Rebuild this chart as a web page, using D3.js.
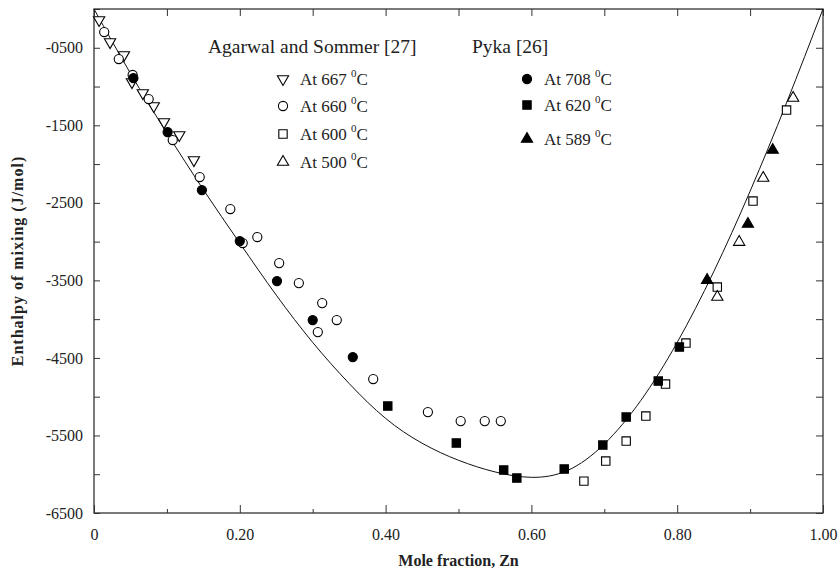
<!DOCTYPE html>
<html>
<head>
<meta charset="utf-8">
<script src="https://cdn.jsdelivr.net/npm/d3@7"></script>
<style>
  body { margin: 0; background: #fff; }
  svg { display: block; font-family: "Liberation Serif", "DejaVu Serif", serif; }
  svg text { font-family: "Liberation Serif", "DejaVu Serif", serif; }
</style>
</head>
<body>
<svg width="838" height="573"></svg>
<script>
// fitted curve
const curveX = [0, 0.05, 0.1, 0.15, 0.2, 0.25, 0.3, 0.35, 0.4, 0.45, 0.5, 0.55, 0.6, 0.65, 0.7, 0.75, 0.8, 0.85, 0.9, 0.95, 1.0];
const curveY = [0, -830, -1600, -2330, -3020, -3690, -4300, -4830, -5280, -5600, -5820, -5970, -6040, -5950, -5610, -5050, -4300, -3390, -2350, -1210, 0];

// Agarwal and Sommer [27]
const a667x = [0.007, 0.022, 0.041, 0.052, 0.067, 0.082, 0.096, 0.117, 0.137];
const a667y = [-142, -426, -594, -942, -1084, -1251, -1458, -1625, -1948];
const a660x = [0.014, 0.034, 0.053, 0.075, 0.108, 0.145, 0.187, 0.204, 0.224, 0.254, 0.281, 0.313, 0.333, 0.307, 0.383, 0.458, 0.503, 0.536, 0.558];
const a660y = [-297, -645, -851, -1161, -1690, -2167, -2580, -3019, -2941, -3277, -3535, -3793, -4012, -4167, -4773, -5199, -5315, -5315, -5315];
const a600x = [0.672, 0.702, 0.730, 0.757, 0.784, 0.812, 0.855, 0.904, 0.950];
const a600y = [-6089, -5830, -5572, -5250, -4837, -4308, -3586, -2477, -1303];
const a500x = [0.855, 0.885, 0.918, 0.959];
const a500y = [-3715, -3006, -2180, -1148];

// Pyka [26]
const p708x = [0.054, 0.101, 0.148, 0.200, 0.251, 0.300, 0.355];
const p708y = [-890, -1587, -2335, -2993, -3509, -4012, -4489];
const p620x = [0.403, 0.497, 0.562, 0.580, 0.645, 0.698, 0.730, 0.774, 0.803];
const p620y = [-5121, -5598, -5946, -6050, -5933, -5624, -5263, -4799, -4360];
const p589x = [0.841, 0.897, 0.931];
const p589y = [-3496, -2773, -1819];

const xLabels = ["0", "0.20", "0.40", "0.60", "0.80", "1.00"];
const yLabelled = [-500, -1500, -2500, -3500, -4500, -5500, -6500];

const svg = d3.select("svg");
const mLeft = 94, mRight = 823, mTop = 9, mBottom = 513;
const serif = "Liberation Serif";

const x = d3.scaleLinear().domain([0, 1]).range([mLeft, mRight]);
const y = d3.scaleLinear().domain([-6500, 0]).range([mBottom, mTop]);

const yTicks = d3.range(-6500, 1, 500);
const xMajor = [0, 0.2, 0.4, 0.6, 0.8, 1.0];
const xMinor = [0.1, 0.3, 0.5, 0.7, 0.9];

function fmtY(v) {
  if (!yLabelled.includes(v)) return "";
  return "-" + String(Math.abs(v)).padStart(4, "0");
}

function tidy(g) {
  g.select(".domain").remove();
  g.attr("font-family", null).attr("font-size", null);
  g.selectAll(".tick line").attr("stroke", "#333");
  g.selectAll(".tick text")
    .attr("fill", "#222")
    .style("font-family", serif)
    .style("font-size", "16px");
}

// left axis
svg.append("g")
  .attr("transform", `translate(${mLeft},0)`)
  .call(d3.axisLeft(y).tickValues(yTicks).tickSize(-6).tickPadding(11).tickFormat(fmtY))
  .call(tidy);

// right axis
svg.append("g")
  .attr("transform", `translate(${mRight},0)`)
  .call(d3.axisRight(y).tickValues(yTicks).tickSize(-7).tickFormat(""))
  .call(tidy);

// bottom axis
svg.append("g")
  .attr("transform", `translate(0,${mBottom})`)
  .call(d3.axisBottom(x).tickValues(xMajor).tickSize(-8).tickPadding(16)
    .tickFormat((d, i) => xLabels[i]))
  .call(tidy);
svg.append("g")
  .attr("transform", `translate(0,${mBottom})`)
  .call(d3.axisBottom(x).tickValues(xMinor).tickSize(-4).tickFormat(""))
  .call(tidy);

// top axis
svg.append("g")
  .attr("transform", `translate(0,${mTop})`)
  .call(d3.axisTop(x).tickValues(xMajor.concat(xMinor)).tickSize(-7).tickFormat(""))
  .call(tidy);

// frame
svg.append("rect")
  .attr("x", mLeft).attr("y", mTop)
  .attr("width", mRight - mLeft).attr("height", mBottom - mTop)
  .attr("fill", "none").attr("stroke", "#333").attr("stroke-width", 1.3);

// curve
const line = d3.line().x(d => x(d[0])).y(d => y(d[1])).curve(d3.curveNatural);
svg.append("path")
  .datum(d3.zip(curveX, curveY))
  .attr("d", line)
  .attr("fill", "none")
  .attr("stroke", "#111")
  .attr("stroke-width", 1);

// symbols
const sym = {
  tri: d3.symbol().type(d3.symbolTriangle).size(55),
  circ: d3.symbol().type(d3.symbolCircle).size(66),
  sq: d3.symbol().type(d3.symbolSquare).size(70)
};

const series = [
  { xs: a667x, ys: a667y, s: "tri", rot: 180, fill: "#fff", label: "667" },
  { xs: a660x, ys: a660y, s: "circ", rot: 0, fill: "#fff", label: "660" },
  { xs: a600x, ys: a600y, s: "sq", rot: 0, fill: "#fff", label: "600" },
  { xs: a500x, ys: a500y, s: "tri", rot: 0, fill: "#fff", label: "500" },
  { xs: p708x, ys: p708y, s: "circ", rot: 0, fill: "#000", label: "708" },
  { xs: p620x, ys: p620y, s: "sq", rot: 0, fill: "#000", label: "620" },
  { xs: p589x, ys: p589y, s: "tri", rot: 0, fill: "#000", label: "589" }
];

series.forEach(sr => {
  svg.append("g").selectAll("path")
    .data(d3.zip(sr.xs, sr.ys))
    .join("path")
    .attr("d", sym[sr.s]())
    .attr("transform", d => `translate(${x(d[0])},${y(d[1])}) rotate(${sr.rot})`)
    .attr("fill", sr.fill)
    .attr("stroke", "#000")
    .attr("stroke-width", 1.1);
});

// legend
function legendItem(sr, sx, tx, cy) {
  svg.append("path")
    .attr("d", sym[sr.s]())
    .attr("transform", `translate(${sx},${cy}) rotate(${sr.rot})`)
    .attr("fill", sr.fill).attr("stroke", "#000").attr("stroke-width", 1.1);
  const t = svg.append("text")
    .attr("x", tx).attr("y", cy + 6)
    .attr("font-size", 17).attr("fill", "#222");
  t.append("tspan").text("At " + sr.label + " ");
  t.append("tspan").attr("dy", -8).attr("font-size", 11).text("0");
  t.append("tspan").attr("dy", 8).text("C");
}

svg.append("text").attr("x", 208).attr("y", 53)
  .attr("font-size", 19.5).attr("fill", "#222").text("Agarwal and Sommer [27]");
svg.append("text").attr("x", 472).attr("y", 53)
  .attr("font-size", 19.5).attr("fill", "#222").text("Pyka [26]");

[79, 106, 134, 162].forEach((cy, i) => legendItem(series[i], 283, 300, cy));
[79, 105, 139].forEach((cy, i) => legendItem(series[i + 4], 527, 544, cy));

// axis titles
svg.append("text")
  .attr("x", (mLeft + mRight) / 2).attr("y", 566)
  .attr("text-anchor", "middle")
  .attr("font-size", 16).attr("font-weight", "bold").attr("fill", "#222")
  .text("Mole fraction, Zn");

svg.append("text")
  .attr("transform", `translate(23,${(mTop + mBottom) / 2}) rotate(-90)`)
  .attr("text-anchor", "middle")
  .attr("font-size", 16).attr("font-weight", "bold").attr("fill", "#222")
  .attr("letter-spacing", 1)
  .text("Enthalpy of mixing (J/mol)");
</script>
</body>
</html>
